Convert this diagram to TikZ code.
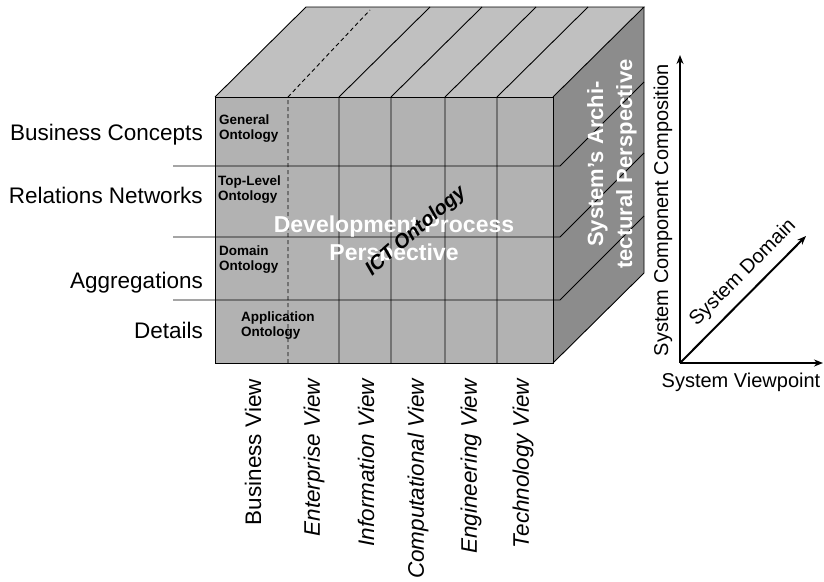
\documentclass[tikz,border=0pt]{standalone}
\usepackage{fontspec}
\setmainfont{Liberation Sans}
\usepackage{xcolor}
\usetikzlibrary{positioning,arrows.meta,calc}

\definecolor{frontGray}{RGB}{178,178,178}
\definecolor{topGray}{RGB}{192,192,192}
\definecolor{sideGray}{RGB}{140,140,140}

\begin{document}
\begin{tikzpicture}[
  x=1pt, y=-1pt,
  gridLine/.style={line width=0.9pt},
  rowLabel/.style={anchor=east, inner sep=0pt, font=\fontsize{22.5}{27}\selectfont},
  viewLabel/.style={rotate=90, anchor=east, inner sep=0pt, font=\fontsize{22.5}{27}\selectfont},
  ontoLabel/.style={anchor=north west, align=left, inner sep=0pt,
                    font=\fontsize{13.5}{15}\selectfont\bfseries},
  perspLabel/.style={text=white, align=center, inner sep=0pt,
                     font=\fontsize{23}{28}\selectfont\bfseries},
  axisLabel/.style={inner sep=0pt, font=\fontsize{20}{24}\selectfont},
  axisArrow/.style={line width=2pt, -{Stealth[length=9pt,width=7pt]}}
]
  \useasboundingbox (0,0) rectangle (824,581);

  % faces of the cube
  \fill[topGray] (215,97) -- (306,7) -- (644,7) -- (553,97) -- cycle;
  \fill[sideGray] (553,97) -- (644,7) -- (644,273) -- (553,363) -- cycle;
  \fill[frontGray] (215,97) rectangle (553,363);

  % columns and rows
  \foreach \x in {339,391,445,497}
    \draw[gridLine] (\x,363) -- (\x,97) -- ++(91,-90);
  \draw[gridLine, dash pattern=on 4pt off 3pt] (288,363) -- (288,97) -- ++(82,-87);
  \foreach \y in {166,237,300}
    \draw[gridLine] (173,\y) -- (560,\y) -- ++(84,-84);

  % outline
  \draw[gridLine] (215,97) rectangle (553,363);
  \draw[gridLine] (215,97) -- (306,7) -- (644,7) -- (553,97);
  \draw[gridLine] (644,7) -- (644,273) -- (553,363);

  % ontology levels
  \node[ontoLabel] (general) at (219,115) {General\\Ontology};
  \node[ontoLabel] (toplevel) at (218,176) {Top-Level\\Ontology};
  \node[ontoLabel] (domain) at (219,246) {Domain\\Ontology};
  \node[ontoLabel] (application) at (241,312) {Application\\Ontology};

  \node[perspLabel] (devPersp) at (394,241) {Development Process\\Perspective};
  \node[rotate=41, inner sep=0pt, font=\fontsize{20}{24}\selectfont\bfseries\itshape]
    (ict) at (416,231) {ICT Ontology};
  \node[perspLabel, rotate=90, font=\fontsize{22}{29}\selectfont\bfseries]
    (archPersp) at (612,164) {System’s Archi-\\tectural Perspective};

  % rows on the left
  \node[rowLabel] (concepts) at (203,135) {Business Concepts};
  \node[rowLabel] (relations) at (203,195) {Relations Networks};
  \node[rowLabel] (aggreg) at (203,283) {Aggregations};
  \node[rowLabel] (details) at (203,330) {Details};

  % views below
  \node[viewLabel] (business) at (253,379) {Business View};
  \node[viewLabel] (enterprise) at (314,379) {\itshape Enterprise View};
  \node[viewLabel] (information) at (366,379) {\itshape Information View};
  \node[viewLabel] (computational) at (418,379) {\itshape Computational View};
  \node[viewLabel] (engineering) at (471,379) {\itshape Engineering View};
  \node[viewLabel] (technology) at (523,379) {\itshape Technology View};

  % axes
  \coordinate (origin) at (680,363);
  \coordinate (upEnd) at (680,55);
  \coordinate (rightEnd) at (823,363);
  \coordinate (diagEnd) at (806,236);
  \draw[axisArrow] (origin) -- (upEnd);
  \draw[axisArrow] (origin) -- (rightEnd);
  \draw[axisArrow] (origin) -- (diagEnd);
  \node[axisLabel, rotate=90] (composition) at (663,210) {System Component Composition};
  \node[axisLabel] (viewpoint) at (741,382) {System Viewpoint};
  \node[axisLabel, rotate=45] (sysDomain) at (743,273) {System Domain};
\end{tikzpicture}
\end{document}
